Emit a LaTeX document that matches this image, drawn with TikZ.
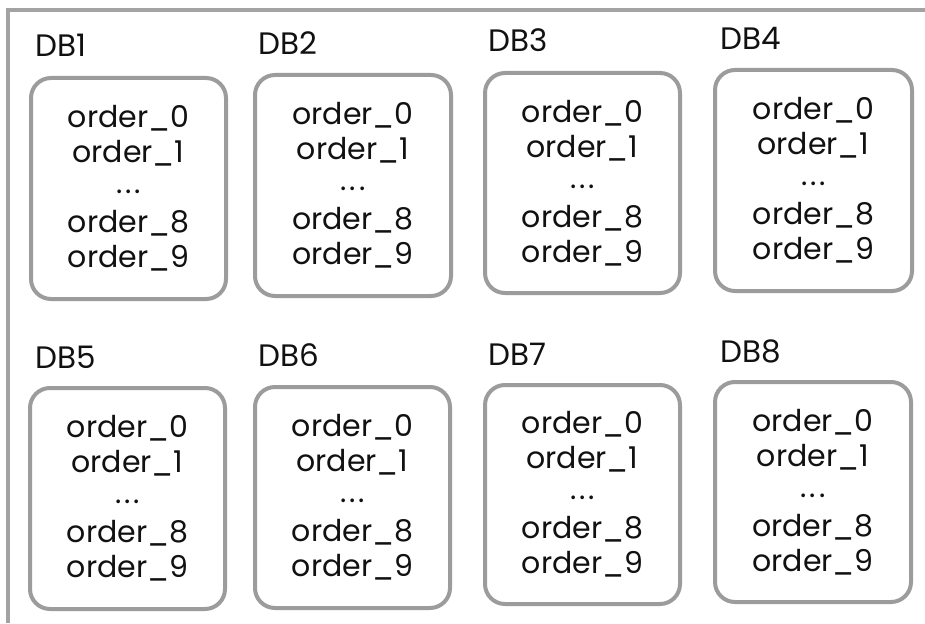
\documentclass[tikz,border=0pt]{standalone}
\usepackage{fontspec}
\setmainfont{Poppins}
\definecolor{framegray}{HTML}{A3A3A3}
\definecolor{boxgray}{HTML}{9C9C9C}
\definecolor{textblack}{HTML}{111111}
\newcommand{\rowdots}{\raisebox{4pt}{.\kern3pt.\kern3pt.}}
\begin{document}
\begin{tikzpicture}[x=1pt,y=-1pt,
  frameline/.style={draw=framegray,line width=4pt},
  dbbox/.style={draw=boxgray,line width=4pt,rounded corners=20pt,
    align=center,inner sep=0pt,text=textblack,
    font=\fontsize{30}{35}\selectfont},
  dblabel/.style={anchor=base west,inner sep=0pt,text=textblack,
    font=\fontsize{31}{35}\selectfont}]
  \useasboundingbox (0,0) rectangle (925,623);
  \fill[white] (0,0) rectangle (925,623);
  % outer frame: top and left edges only
  \coordinate (ftr) at (925,10);
  \coordinate (ftl) at (8,10);
  \coordinate (fbl) at (8,623);
  \draw[frameline] (ftr) -- (ftl) -- (fbl);
  % database boxes: index / left / top / right / bottom / label x / label baseline
  \foreach \i/\l/\t/\r/\b/\lx/\ly in {
      1/31/78/226/299/35/57,
      2/255/75/451/296/258/55,
      3/485/73/680/293/488/52,
      4/715/70/912/291/720/50,
      5/30/388/225/609/35/368,
      6/255/387/450/608/258/366,
      7/485/385/680/604/488/365,
      8/715/382/911/602/720/362} {
    \pgfmathsetmacro{\cx}{(\l+\r)/2}
    \pgfmathsetmacro{\cy}{(\t+\b)/2}
    \pgfmathsetmacro{\w}{\r-\l}
    \pgfmathsetmacro{\h}{\b-\t}
    \node[dbbox,minimum width=\w pt,minimum height=\h pt] (db\i) at (\cx,\cy)
      {order\_0\\order\_1\\\rowdots\\order\_8\\order\_9};
    \node[dblabel] (lab\i) at (\lx,\ly) {DB\i};
  }
\end{tikzpicture}
\end{document}
